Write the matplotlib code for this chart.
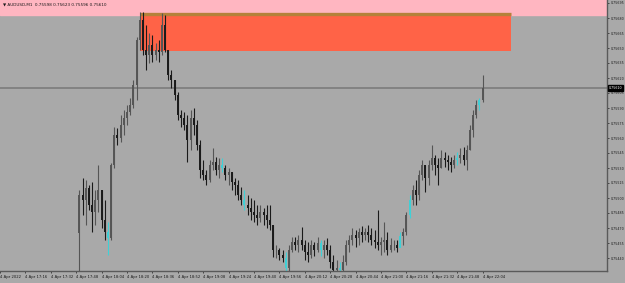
import matplotlib
matplotlib.use('Agg')
import matplotlib.pyplot as plt
from matplotlib.patches import Rectangle

# AUDUSD M1, 4 Apr 2022 - candles sampled every 2 minutes from the screenshot
# prices kept in points (1e-5) above BASE
BASE = 0.75425
start_minute = 50   # first bar 17:50, minutes counted from 17:00
step = 2

highs = [83, 95, 93, 88, 91, 83, 108, 83, 73, 51,
         110, 146, 145, 158, 163, 168, 175, 193, 236, 261,
         261, 248, 240, 238, 230, 233, 260, 258, 223, 203,
         193, 181, 163, 161, 158, 163, 165, 153, 133, 113,
         103, 113, 125, 116, 115, 115, 108, 105, 101, 95,
         93, 86, 83, 78, 75, 73, 68, 68, 65, 68,
         68, 48, 28, 25, 23, 21, 28, 36, 36, 38,
         46, 33, 31, 33, 31, 36, 33, 33, 35, 28,
         18, 13, 11, 18, 33, 38, 45, 43, 45, 47,
         45, 48, 45, 43, 63, 36, 51, 41, 35, 33,
         33, 41, 45, 61, 78, 88, 93, 103, 113, 108,
         113, 128, 118, 115, 123, 121, 118, 116, 118, 121,
         125, 126, 128, 148, 163, 173, 175, 198]
lows = [-12, 58, 48, 63, 41, 48, 61, 45, 33, 18,
        33, 105, 128, 131, 138, 148, 158, 165, 173, 223,
        218, 203, 210, 211, 213, 211, 218, 221, 193, 185,
        173, 153, 146, 143, 111, 123, 138, 123, 95, 93,
        88, 91, 103, 98, 95, 101, 93, 88, 83, 78,
        73, 68, 63, 58, 53, 51, 48, 51, 48, 45,
        43, 16, 15, 13, 11, 0, 0, 21, 23, 21,
        23, 13, 11, 15, 17, 21, 17, 15, 18, 5,
        -2, -2, -2, -2, 8, 21, 28, 26, 28, 31,
        33, 31, 28, 25, 23, 18, 21, 18, 21, 23,
        21, 26, 28, 38, 55, 68, 68, 73, 93, 81,
        88, 103, 98, 88, 105, 106, 103, 101, 105, 108,
        110, 108, 103, 123, 136, 155, 163, 171]
closes = [78, 73, 85, 68, 61, 73, 83, 53, 41, 35,
          108, 138, 135, 148, 155, 161, 168, 188, 233, 253,
          223, 218, 228, 218, 223, 221, 248, 223, 198, 193,
          178, 158, 155, 148, 133, 155, 148, 128, 103, 98,
          93, 108, 111, 103, 108, 105, 98, 101, 91, 88,
          78, 73, 68, 65, 61, 58, 55, 61, 58, 53,
          48, 23, 23, 18, 15, 5, 23, 31, 28, 33,
          28, 21, 18, 28, 23, 30, 23, 28, 23, 11,
          3, 5, 3, 11, 28, 33, 38, 35, 41, 38,
          41, 38, 33, 31, 28, 31, 33, 23, 28, 28,
          25, 37, 41, 58, 73, 83, 78, 98, 108, 95,
          108, 115, 108, 105, 115, 113, 111, 108, 113, 115,
          118, 113, 123, 143, 158, 168, 173, 185]
first_open = 40
opens = [first_open] + closes[:-1]

# bars shown in cyan on the chart
cyan_bars = [9, 45, 52, 65, 76, 82, 101, 104, 119, 126]

tick_minutes = [0, 16, 32, 48, 64, 80, 96, 112, 128, 144,
                160, 176, 192, 208, 224, 240, 256, 272, 288, 304]
tick_labels = ['4 Apr 2022', '4 Apr 17:16', '4 Apr 17:32', '4 Apr 17:48', '4 Apr 18:04',
               '4 Apr 18:20', '4 Apr 18:36', '4 Apr 18:52', '4 Apr 19:08', '4 Apr 19:24',
               '4 Apr 19:40', '4 Apr 19:56', '4 Apr 20:12', '4 Apr 20:28', '4 Apr 20:44',
               '4 Apr 21:00', '4 Apr 21:16', '4 Apr 21:32', '4 Apr 21:48', '4 Apr 22:04']

# supply zone drawn on the chart
zone_start, zone_end = 88, 322
zone_low, zone_high = 222, 258
zone_line = 259


def px(v):
    return BASE + v * 1e-5


H = [px(v) for v in highs]
L = [px(v) for v in lows]
O = [px(v) for v in opens]
C = [px(v) for v in closes]
xs = [start_minute + step * i for i in range(len(closes))]

bg = '#a9a9a9'
fig = plt.figure(figsize=(6.25, 2.83), dpi=100, facecolor=bg)
ax = fig.add_axes([0, 12 / 283, 607 / 625, 271 / 283])
ax.set_facecolor(bg)

y_lo, y_hi = px(2), px(273)
x_max = 607 / 1.5875
ax.set_xlim(0, x_max)
ax.set_ylim(y_lo, y_hi)

# pink band on top and the red zone
ax.axhspan(px(zone_high), y_hi + 0.001, color='#ffb6c1', zorder=1)
ax.add_patch(Rectangle((zone_start, px(zone_low)), zone_end - zone_start,
                       px(zone_high) - px(zone_low), color='#ff6347', lw=0, zorder=1.2))
ax.hlines(px(zone_line), zone_start, zone_end, color='#b5813b', lw=2.4, zorder=1.3)

# bid line
ax.axhline(C[-1], color='#808080', lw=1.3, zorder=1.5)

# candles
colors = []
for i in range(len(C)):
    if i in cyan_bars:
        colors.append('#3fd0d6')
    elif C[i] >= O[i]:
        colors.append('#555555')
    else:
        colors.append('#1a1a1a')
ax.vlines(xs, L, H, colors=colors, lw=0.8, zorder=2)
ax.vlines(xs, [min(o, c) for o, c in zip(O, C)], [max(o, c) for o, c in zip(O, C)],
          colors=colors, lw=1.4, zorder=2.1)

# axes styling (MT4 look)
for s in ['left', 'top']:
    ax.spines[s].set_visible(False)
for s in ['right', 'bottom']:
    ax.spines[s].set_color('#5a5a5a')
    ax.spines[s].set_linewidth(1.0)

yt = [px(270 - 15 * k) for k in range(18)]
ax.yaxis.tick_right()
ax.set_yticks(yt, ['%.5f' % v for v in yt])
ax.set_xticks(tick_minutes, tick_labels)
for lab in ax.get_xticklabels():
    lab.set_ha('left')
ax.tick_params(axis='x', labelsize=2.7, length=1.5, width=0.6, color='#333333',
               labelcolor='#1a1a1a', pad=1.5)
ax.tick_params(axis='y', labelsize=2.3, length=1.5, width=0.6, color='#333333',
               labelcolor='#1a1a1a', pad=1.2)

# current price label
ax.text(1.003, C[-1], '%.5f' % C[-1], transform=ax.get_yaxis_transform(),
        fontsize=2.3, color='white', va='center', ha='left', zorder=5, clip_on=False,
        bbox=dict(boxstyle='square,pad=0.3', fc='black', ec='black'))

# header
fig.text(3 / 625, 1 - 5 / 283,
         '\u25bc AUDUSD,M1  %.5f %.5f %.5f %.5f' % (O[-1], H[-1], L[-1], C[-1]),
         fontsize=3.0, color='#1a1a1a', va='center', ha='left')

fig.savefig('out.png', dpi=100, facecolor=bg)
